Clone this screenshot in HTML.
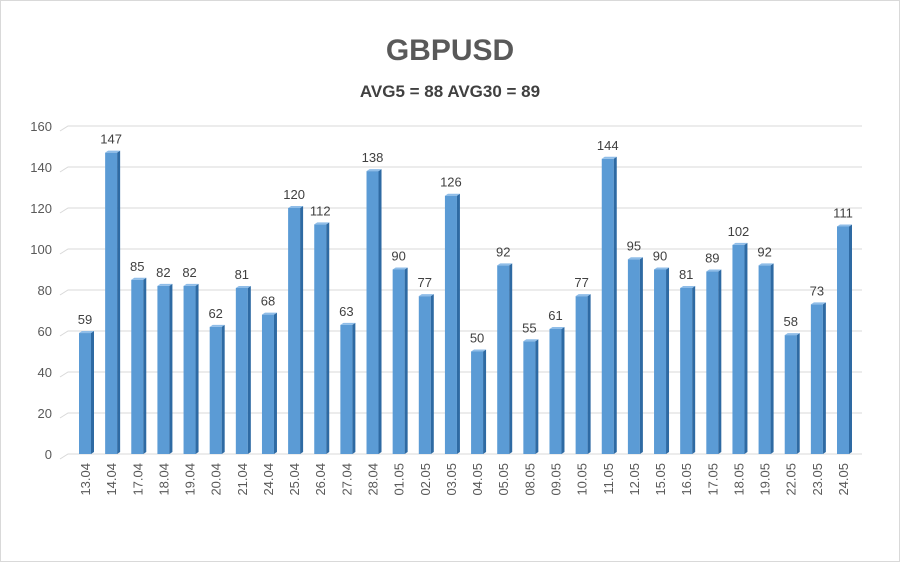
<!DOCTYPE html>
<html><head><meta charset="utf-8"><style>
body{margin:0;background:#fff}
svg{display:block;font-family:"Liberation Sans",sans-serif}
</style></head><body>
<svg id="chart" width="900" height="562">
<rect x="0.5" y="0.5" width="899" height="561" fill="#fff" stroke="#d9d9d9"/>
<text x="450" y="60" text-anchor="middle" font-size="30" font-weight="bold" fill="#595959">GBPUSD</text>
<text x="450" y="97" text-anchor="middle" font-size="17" font-weight="bold" fill="#404040">AVG5 = 88 AVG30 = 89</text>
<g id="grid"></g><g id="bars"></g><g id="labels"></g>
</svg>
<script>
const categories=["13.04","14.04","17.04","18.04","19.04","20.04","21.04","24.04","25.04","26.04","27.04","28.04","01.05","02.05","03.05","04.05","05.05","08.05","09.05","10.05","11.05","12.05","15.05","16.05","17.05","18.05","19.05","22.05","23.05","24.05"];
const values=[59,147,85,82,82,62,81,68,120,112,63,138,90,77,126,50,92,55,61,77,144,95,90,81,89,102,92,58,73,111];
const yTicks=[0,20,40,60,80,100,120,140,160];
const NS="http://www.w3.org/2000/svg";
const y0=454,yTop=126,vMax=160,x0=85,step=(843-85)/29;
const yS=v=>y0-(y0-yTop)*v/vMax;
const xS=i=>x0+i*step;
function mk(t,a,p){const e=document.createElementNS(NS,t);for(const k in a)e.setAttribute(k,a[k]);p.appendChild(e);return e;}
const g=document.getElementById('grid'),b=document.getElementById('bars'),l=document.getElementById('labels');
yTicks.forEach(t=>{const y=yS(t);
const ln=mk('polyline',{points:`60,${y+5} 68,${y} 862,${y}`,fill:'none',stroke:'#d9d9d9','stroke-width':1},g);


const tx=mk('text',{x:52,y:y+5,'text-anchor':'end','font-size':13,fill:'#595959'},g);tx.textContent=t;

});
values.forEach((v,i)=>{const cx=xS(i),y=yS(v),w=12;
const grp=mk('g',{},b);


mk('rect',{x:cx-w/2,y:y,width:w,height:y0-y,fill:'#5b9bd5'},grp);
mk('polygon',{points:`${cx+w/2},${y} ${cx+w/2+3},${y-2} ${cx+w/2+3},${y0-2} ${cx+w/2},${y0}`,fill:'#2e6aa3'},grp);
mk('polygon',{points:`${cx-w/2},${y} ${cx-w/2+3},${y-2} ${cx+w/2+3},${y-2} ${cx+w/2},${y}`,fill:'#8fbde8'},grp);
const vt=mk('text',{x:cx,y:y-9,'text-anchor':'middle','font-size':13,fill:'#404040'},l);vt.textContent=v;


const ct=mk('text',{x:0,y:0,'text-anchor':'end','font-size':13,fill:'#595959',transform:`translate(${cx+5},463) rotate(-90)`},l);ct.textContent=categories[i];

});
</script>
</body></html>
